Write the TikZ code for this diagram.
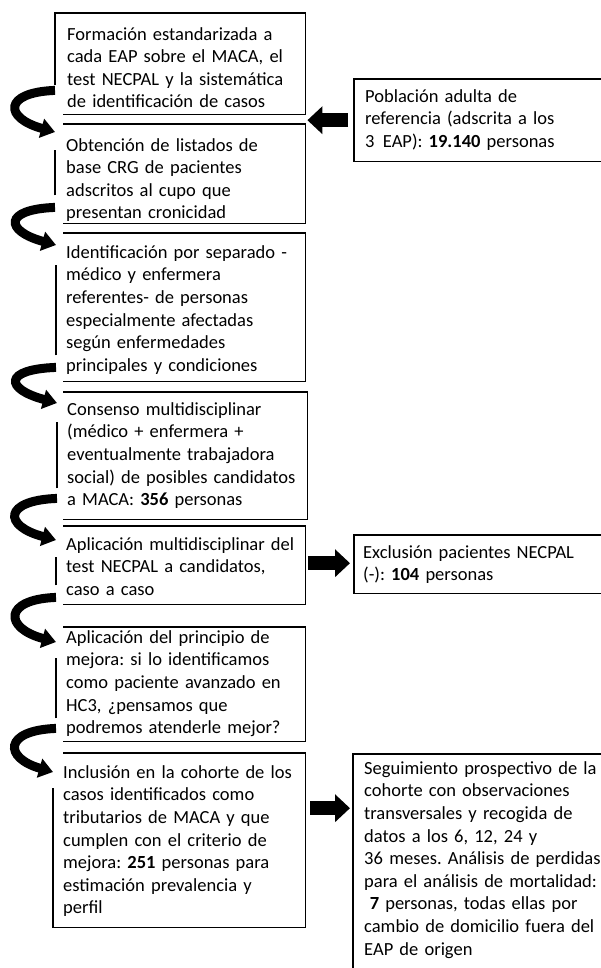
\documentclass[tikz,border=0pt]{standalone}
\usepackage{fontspec}
\setmainfont{Carlito}
\usetikzlibrary{arrows.meta,calc}
\frenchspacing
\newcommand\txtfont{\fontsize{18.5}{22.6}\selectfont\frenchspacing}
\begin{document}
\begin{tikzpicture}[x=1pt,y=-1pt,
 box/.style={draw=none, rectangle, inner sep=0pt, anchor=north west},
 bx/.style={draw=black, line width=1.4pt, line join=miter},
 txt/.style={anchor=north west, inner sep=0pt, align=left, text width=300pt, font=\txtfont},
 curv/.style={line width=9pt, -{Triangle[length=14pt,width=19pt]}},
 blk/.style={line width=14pt, -{Triangle[length=15pt,width=27pt]}}]
\fill[white] (0,0) rectangle (601,968);
\useasboundingbox (0,0) rectangle (601,968);

% box nodes (shape only)
\node[box, minimum width=250pt, minimum height=101pt] (b1) at (55,13) {};
\node[box, minimum width=250pt, minimum height=99pt]  (b2) at (55,124) {};
\node[box, minimum width=249pt, minimum height=148pt] (b3) at (56,233) {};
\node[box, minimum width=250pt, minimum height=127pt] (b4) at (57,392) {};
\node[box, minimum width=249pt, minimum height=78pt]  (b5) at (56,526) {};
\node[box, minimum width=249pt, minimum height=114pt] (b6) at (56,627) {};
\node[box, minimum width=252pt, minimum height=174pt] (b7) at (53,753) {};
\node[box, minimum width=249pt, minimum height=82pt]  (r1) at (354,79) {};
\node[box, minimum width=249pt, minimum height=58pt]  (r2) at (354,535) {};
\node[box, minimum width=250pt, minimum height=225pt] (r3) at (353,754) {};

% borders (left edges interrupted where the curved arrows pass)
\draw[bx] ([yshift=29pt]b1.south west) -- (b1.north west) -- (b1.north east) -- (b1.south east) -- ([xshift=8pt]b1.south west);
\draw[bx] ([xshift=8pt]b2.north west) -- (b2.north east) -- (b2.south east) -- ([xshift=8pt]b2.south west)
          ([yshift=28pt]b2.south west) -- ([yshift=-26pt]b2.north west);
\draw[bx] ([xshift=7pt]b3.north west) -- (b3.north east) -- (b3.south east) -- ([xshift=7pt]b3.south west)
          ([yshift=26pt]b3.south west) -- ([yshift=-32pt]b3.north west);
\draw[bx] ([xshift=6pt]b4.north west) -- (b4.north east) -- (b4.south east) -- ([xshift=6pt]b4.south west)
          ([yshift=31pt]b4.south west) -- ([yshift=-30pt]b4.north west);
\draw[bx] ([xshift=7pt]b5.north west) -- (b5.north east) -- (b5.south east) -- ([xshift=7pt]b5.south west)
          ([yshift=19pt]b5.south west) -- ([yshift=-31pt]b5.north west);
\draw[bx] ([xshift=7pt]b6.north west) -- (b6.north east) -- (b6.south east) -- ([xshift=7pt]b6.south west)
          ([yshift=23pt]b6.south west) -- ([yshift=-31pt]b6.north west);
\draw[bx] ([xshift=10pt]b7.north west) -- (b7.north east) -- (b7.south east) -- (b7.south west) -- ([yshift=-35pt]b7.north west);
\draw[bx] (r1.north east) -- (r1.north west) -- (r1.south west) -- (r1.south east);
\draw[bx] (r2.north east) -- (r2.north west) -- (r2.south west) -- (r2.south east);
\draw[bx] (r3.north east) -- (r3.north west) -- (r3.south west);

% texts
\node[txt] (t1) at (67,23) {\noindent\rule{0pt}{17pt}Formación estandarizada a\\cada EAP sobre el MACA, el\\test NECPAL y la sistemática\\de identificación de casos};
\node[txt] (t2) at (66,134) {\noindent\rule{0pt}{17pt}Obtención de listados de\\base CRG de pacientes\\adscritos al cupo que\\presentan cronicidad};
\node[txt] (t3) at (66,241) {\noindent\rule{0pt}{17pt}Identificación por separado -\\médico y enfermera\\referentes- de personas\\especialmente afectadas\\según enfermedades\\principales y condiciones};
\node[txt] (t4) at (67,398) {\noindent\rule{0pt}{17pt}Consenso multidisciplinar\\(médico + enfermera +\\eventualmente trabajadora\\social) de posibles candidatos\\a MACA: \textbf{356} personas};
\node[txt] (t5) at (66,533) {\noindent\rule{0pt}{17pt}Aplicación multidisciplinar del\\test NECPAL a candidatos,\\caso a caso};
\node[txt] (t6) at (66,626) {\noindent\rule{0pt}{17pt}Aplicación del principio de\\mejora: si lo identificamos\\como paciente avanzado en\\HC3, ¿pensamos que\\podremos atenderle mejor?};
\node[txt] (t7) at (63,761) {\noindent\rule{0pt}{17pt}Inclusión en la cohorte de los\\casos identificados como\\tributarios de MACA y que\\cumplen con el criterio de\\mejora: \textbf{251} personas para\\estimación prevalencia y\\perfil};
\node[txt] (tr1) at (365,85) {\noindent\rule{0pt}{17pt}Población adulta de\\referencia (adscrita a los\\3\hspace{0.45em}EAP): \textbf{19.140} personas};
\node[txt] (tr2) at (363,541) {\noindent\rule{0pt}{17pt}Exclusión pacientes NECPAL\\(-): \textbf{104} personas};
\node[txt] (tr3) at (364,757) {\noindent\rule{0pt}{17pt}Seguimiento prospectivo de la\\cohorte con observaciones\\transversales y recogida de\\datos a los 6, 12, 24 y\\36\hspace{0.35em}meses. Análisis de perdidas\\para el análisis de mortalidad:\\\hspace*{0.3em}\textbf{7} personas, todas ellas por\\cambio de domicilio fuera del\\EAP de origen};

% curved arrows between consecutive steps
\draw[curv] ([yshift=24pt]b1.south west) .. controls +(-52,2) and +(-51,-14) .. ([yshift=-8pt]b2.north west);
\draw[curv] ([yshift=16pt]b2.south west) .. controls +(-52,2) and +(-51,-14) .. ([yshift=-12pt]b3.north west);
\draw[curv] ([yshift=14pt]b3.south west) .. controls +(-53,2) and +(-52,-14) .. ([yshift=-11pt]b4.north west);
\draw[curv] ([yshift=21pt]b4.south west) .. controls +(-54,2) and +(-53,-14) .. ([yshift=-14pt]b5.north west);
\draw[curv] ([yshift=7pt]b5.south west) .. controls +(-53,2) and +(-52,-14) .. ([yshift=-15pt]b6.north west);
\draw[curv] ([yshift=13pt]b6.south west) .. controls +(-53,2) and +(-49,-14) .. ([yshift=-19pt]b7.north west);

% block arrows
\coordinate (a1e) at (r1.west -| b2.east);
\draw[blk] ([xshift=-6pt]r1.west) -- ([xshift=2pt]a1e);
\coordinate (a2s) at ([xshift=3pt,yshift=2pt]b5.east);
\draw[blk] (a2s) -- ($(a2s -| r2.west)+(-4,0)$);
\coordinate (a3s) at ([xshift=5pt,yshift=32pt]b7.east);
\draw[blk] (a3s) -- ($(a3s -| r3.west)+(-3,0)$);
\end{tikzpicture}
\end{document}
